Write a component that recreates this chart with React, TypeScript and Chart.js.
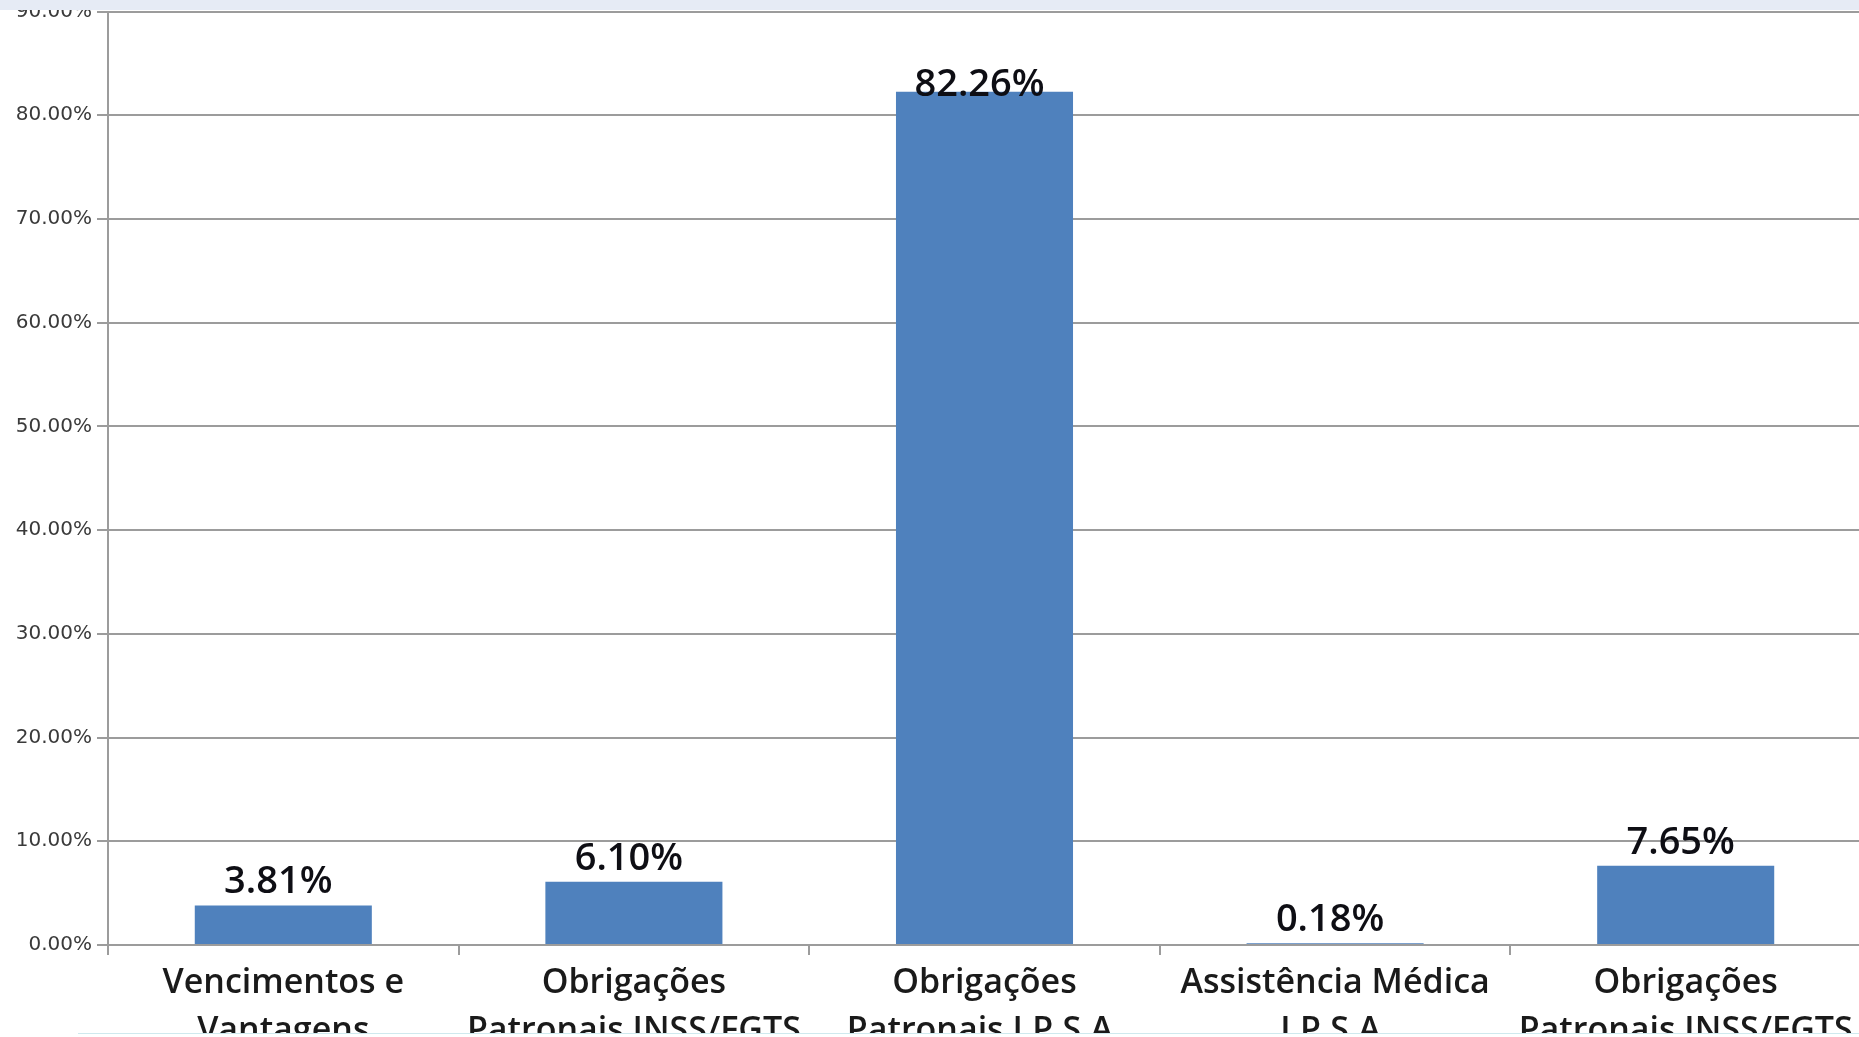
import React, { useEffect, useRef } from "react";
import { Chart, registerables } from "chart.js";

Chart.register(...registerables);

const categories: string[][] = [
  ["Vencimentos e", "Vantagens"],
  ["Obrigações", "Patronais INSS/FGTS"],
  ["Obrigações", "Patronais I.P.S.A."],
  ["Assistência Médica", "I.P.S.A."],
  ["Obrigações", "Patronais INSS/FGTS"],
];
const values: number[] = [3.81, 6.1, 82.26, 0.18, 7.65];
const yMin = 0;
const yMax = 90;
const yStep = 10;

const CANVAS_W = 1861;
const CANVAS_H = 1100;
const AXIS_BOTTOM = 945;

const valueLabels = {
  id: "valueLabels",
  afterDatasetsDraw(chart: any) {
    const ctx = chart.ctx;
    const meta = chart.getDatasetMeta(0);
    ctx.save();
    ctx.font = '600 38px "Open Sans"';
    ctx.fillStyle = "#0e0e14";
    ctx.textAlign = "center";
    ctx.textBaseline = "alphabetic";
    meta.data.forEach((bar: any, i: number) => {
      const y = Math.max(bar.y - 12, chart.chartArea.top + 84);
      ctx.fillText(values[i].toFixed(2) + "%", bar.x - 5, y);
    });
    ctx.restore();
  },
};

export default function App() {
  const ref = useRef<HTMLCanvasElement | null>(null);
  useEffect(() => {
    if (!ref.current) return;
    const gridColor = "#9c9c9c";
    const chart = new Chart(ref.current, {
      type: "bar",
      data: {
        labels: categories,
        datasets: [
          {
            data: values,
            backgroundColor: "#4f81bd",
            borderWidth: 0,
            barPercentage: 1,
            categoryPercentage: 0.505,
          },
        ],
      },
      options: {
        responsive: false,
        animation: false,
        devicePixelRatio: 1,
        layout: { padding: { top: 11.5, left: 0, right: 0, bottom: 0 } },
        plugins: {
          legend: { display: false },
          tooltip: { enabled: false },
          title: { display: false },
        },
        scales: {
          x: {
            grid: {
              drawOnChartArea: false,
              drawTicks: true,
              tickLength: 10,
              color: gridColor,
              lineWidth: 2,
              offset: true,
            },
            border: { color: gridColor, width: 2 },
            ticks: {
              font: { family: "Open Sans", size: 34, weight: "600", lineHeight: 1.39 },
              color: "#1a1a1a",
              padding: 5,
              maxRotation: 0,
              minRotation: 0,
              autoSkip: false,
            },
            afterFit: (scale: any) => {
              scale.height = CANVAS_H - AXIS_BOTTOM;
              scale.paddingLeft = 0;
              scale.paddingRight = 0;
            },
          },
          y: {
            min: yMin,
            max: yMax,
            ticks: {
              stepSize: yStep,
              callback: (v: any) => Number(v).toFixed(2) + "%",
              font: { family: "DejaVu Sans", size: 20 },
              color: "#3a3a3a",
              padding: 5,
            },
            grid: {
              color: gridColor,
              lineWidth: 2,
              tickLength: 11,
              drawTicks: true,
            },
            border: { color: gridColor, width: 2 },
            afterFit: (scale: any) => {
              scale.width = 108;
              scale.paddingTop = 0;
              scale.paddingBottom = 0;
            },
          },
        },
      },
      plugins: [valueLabels],
    });
    return () => chart.destroy();
  }, []);

  return (
    <div
      style={{
        position: "fixed",
        top: 0,
        left: 0,
        width: 1859,
        height: 1037,
        overflow: "hidden",
        background: "#ffffff",
      }}
    >
      <div
        style={{
          position: "absolute",
          top: 0,
          left: 0,
          width: 1859,
          height: 1033,
          overflow: "hidden",
        }}
      >
        <canvas
          ref={ref}
          width={CANVAS_W}
          height={CANVAS_H}
          style={{ position: "absolute", top: 0, left: 0, width: CANVAS_W, height: CANVAS_H }}
        />
      </div>
      <div
        style={{
          position: "absolute",
          top: 0,
          left: 0,
          width: 1859,
          height: 10,
          background: "#e6ebf5",
          zIndex: 2,
        }}
      />
      <div
        style={{
          position: "absolute",
          top: 1033,
          left: 78,
          right: 0,
          height: 1,
          background: "#cfe9ee",
        }}
      />
    </div>
  );
}
